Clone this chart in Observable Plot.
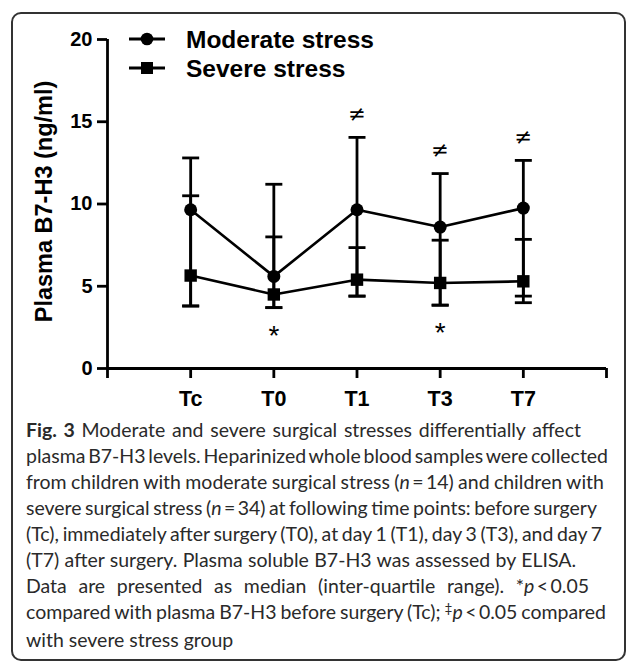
<!DOCTYPE html>
<html>
<head>
<meta charset="utf-8">
<script src="https://cdn.jsdelivr.net/npm/d3@7"></script>
<script src="https://cdn.jsdelivr.net/npm/@observablehq/plot@0.6"></script>
<style>
  body { margin: 0; background: #fff; }
  #wrap { position: relative; width: 627px; height: 662px; overflow: hidden; }
  #chart svg { display: block; }
  #caption { position: relative; margin-left: 26px; font-family: Lato, "Open Sans", sans-serif; color: #2a2a2a; line-height: 26px; margin-top: 2px; }
  #caption .ln { white-space: nowrap; }
  #frame { position: absolute; left: 11px; top: 12px; width: 615px; height: 649px; border: 2px solid #333; border-radius: 10px; box-sizing: border-box; pointer-events: none; }
  #legend { position: absolute; left: 0; top: 0; pointer-events: none; }
</style>
</head>
<body>
<div id="wrap">
  <div id="chart"></div>
  <div id="caption"></div>
  <svg id="legend" width="627" height="100"></svg>
  <div id="frame"></div>
</div>
<script>
// ---- data ----
const categories = ["Tc", "T0", "T1", "T3", "T7"];
const moderateMedian = [9.65, 5.6, 9.65, 8.6, 9.75];
const moderateQ1 = [3.8, 3.7, 4.4, 3.85, 4.0];
const moderateQ3 = [12.8, 11.2, 14.05, 11.85, 12.65];
const severeMedian = [5.65, 4.5, 5.4, 5.2, 5.3];
const severeQ1 = [3.8, 3.7, 4.4, 3.85, 4.4];
const severeQ3 = [10.5, 8.0, 7.35, 7.8, 7.85];
const sigVsSevere = ["T1", "T3", "T7"];   // ≠ marks
const sigVsTc = ["T0", "T3"];             // * marks
const yTicks = [0, 5, 10, 15, 20];
const seriesNames = ["Moderate stress", "Severe stress"];
const yLabel = "Plasma B7-H3 (ng/ml)";

const rows = categories.map((c, i) => ({
  pos: i + 1, cat: c,
  mMed: moderateMedian[i], mQ1: moderateQ1[i], mQ3: moderateQ3[i],
  sMed: severeMedian[i], sQ1: severeQ1[i], sQ3: severeQ3[i]
}));
const xTicks = d3.range(0, categories.length + 2);

const capSymbol = {
  draw(ctx, size) {
    const w = Math.sqrt(size / Math.PI);
    ctx.moveTo(-w, 0); ctx.lineTo(w, 0);
  }
};
const SW = 2.8;
const capOpts = {x: "pos", symbol: capSymbol, r: 8.5, stroke: "black", strokeWidth: SW, fill: "none"};

const plot = Plot.plot({
  width: 627, height: 415,
  marginLeft: 107, marginRight: 21, marginTop: 39, marginBottom: 47,
  x: {domain: [0, categories.length + 1]},
  y: {domain: [0, 20]},
  style: {fontFamily: "'Liberation Sans', Arial, sans-serif", color: "black", background: "transparent"},
  marks: [
    Plot.ruleX([0], {y1: 0, y2: 20, strokeWidth: SW}),
    Plot.ruleY([0], {x1: 0, x2: categories.length + 1, strokeWidth: SW}),
    Plot.axisY({ticks: yTicks, tickSize: 10, tickPadding: 5, fontSize: 20, fontWeight: "bold", strokeWidth: SW, label: null}),
    Plot.axisX({ticks: xTicks, tickSize: 10, tickPadding: 12, fontSize: 21.5, fontWeight: "bold", strokeWidth: SW, label: null,
      tickFormat: d => (d >= 1 && d <= categories.length) ? categories[d - 1] : ""}),
    Plot.text([yLabel], {text: d => d, frameAnchor: "left", textAnchor: "middle", rotate: -90, dx: -63, dy: -2.5, fontSize: 23.5, fontWeight: "bold", lineAnchor: "middle"}),
    // error bars
    Plot.ruleX(rows, {x: "pos", y1: "mQ1", y2: "mQ3", strokeWidth: SW}),
    Plot.ruleX(rows, {x: "pos", y1: "sQ1", y2: "sQ3", strokeWidth: SW}),
    Plot.dot(rows, {...capOpts, y: "mQ1"}),
    Plot.dot(rows, {...capOpts, y: "mQ3"}),
    Plot.dot(rows, {...capOpts, y: "sQ1"}),
    Plot.dot(rows, {...capOpts, y: "sQ3"}),
    // lines
    Plot.line(rows, {x: "pos", y: "mMed", strokeWidth: 2.6}),
    Plot.line(rows, {x: "pos", y: "sMed", strokeWidth: 2.6}),
    Plot.dot(rows, {x: "pos", y: "mMed", symbol: "circle", r: 6.5, fill: "black"}),
    Plot.dot(rows, {x: "pos", y: "sMed", symbol: "square", r: 7, fill: "black"}),
    // significance marks
    Plot.text(rows.filter(r => sigVsSevere.includes(r.cat)), {x: "pos", y: "mQ3", text: () => "\u2260", dy: -23, fontSize: 21, fontFamily: "'DejaVu Sans', sans-serif", lineAnchor: "middle"}),
    Plot.text(rows.filter(r => sigVsTc.includes(r.cat)), {x: "pos", y: "sQ1", text: () => "*", dy: 28, fontSize: 28, lineAnchor: "middle"})
  ]
});
document.getElementById("chart").appendChild(plot);

// ---- legend ----
(function () {
  const svg = d3.select("#legend");
  const rowsY = [39, 68];
  const g = svg.append("g");
  rowsY.forEach((y, i) => {
    g.append("line").attr("x1", 129).attr("x2", 165).attr("y1", y).attr("y2", y).attr("stroke", "black").attr("stroke-width", 3);
    if (i === 0) g.append("circle").attr("cx", 147).attr("cy", y).attr("r", 6.3).attr("fill", "black");
    else g.append("rect").attr("x", 141).attr("y", y - 6).attr("width", 12).attr("height", 12).attr("fill", "black");
    g.append("text").attr("x", 186).attr("y", y + 8.5).text(seriesNames[i])
      .attr("font-family", "'Liberation Sans', Arial, sans-serif").attr("font-weight", "bold").attr("font-size", 24.5).attr("fill", "black");
  });
})();

// ---- caption ----
const captionLines = [
  '<b>Fig. 3</b> Moderate and severe surgical stresses differentially affect',
  'plasma B7-H3 levels. Heparinized whole blood samples were collected',
  'from children with moderate surgical stress (<i>n</i>\u2009=\u200914) and children with',
  'severe surgical stress (<i>n</i>\u2009=\u200934) at following time points: before surgery',
  '(Tc), immediately after surgery (T0), at day 1 (T1), day 3 (T3), and day 7',
  '(T7) after surgery. Plasma soluble B7-H3 was assessed by ELISA.',
  'Data are presented as median (inter-quartile range). *<i>p</i>\u2009&lt;\u20090.05',
  'compared with plasma B7-H3 before surgery (Tc); <span style="position:relative;top:-0.45em;font-size:0.7em">\u2021</span><i>p</i>\u2009&lt;\u20090.05 compared',
  'with severe stress group'
];
const lineEnds = [581, 608, 604, 597, 602, 576, 589, 606, null];
(function () {
  const cap = document.getElementById("caption");
  const spans = captionLines.map(html => {
    const d = document.createElement("div");
    d.className = "ln";
    const s = document.createElement("span");
    s.innerHTML = html;
    d.appendChild(s);
    cap.appendChild(d);
    return s;
  });
  const base = 20;
  cap.style.fontSize = base + "px";
  let natural = 0, target = 0;
  spans.forEach((s, i) => { if (lineEnds[i]) { natural += s.getBoundingClientRect().width; target += lineEnds[i] - 26; } });
  const size = base * target / natural;
  cap.style.fontSize = size.toFixed(2) + "px";
  spans.forEach((s, i) => {
    if (!lineEnds[i]) return;
    const w = s.getBoundingClientRect().width;
    const nSpaces = (s.textContent.match(/ /g) || []).length;
    const extra = (lineEnds[i] - 26 - w) / nSpaces;
    s.style.wordSpacing = extra.toFixed(2) + "px";
  });
})();
</script>
</body>
</html>
